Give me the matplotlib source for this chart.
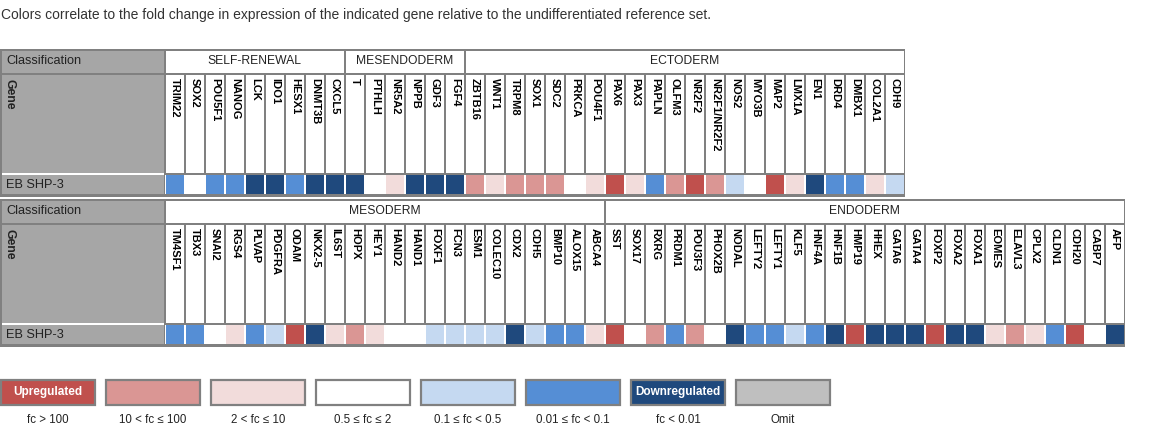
import matplotlib
matplotlib.use('Agg')
import matplotlib.pyplot as plt
from matplotlib.patches import Rectangle

plt.rcParams['font.family'] = ['Liberation Sans', 'DejaVu Sans']

title = ("Colors correlate to the fold change in expression of the indicated gene "
         "relative to the undifferentiated reference set.")
sample = 'EB SHP-3'

# level index: 0 = fc > 100 ... 6 = fc < 0.01, 7 = omit
top_groups = ['SELF-RENEWAL', 'MESENDODERM', 'ECTODERM']
top_group_sizes = [9, 6, 22]
top_genes = ['TRIM22', 'SOX2', 'POU5F1', 'NANOG', 'LCK', 'IDO1', 'HESX1', 'DNMT3B', 'CXCL5',
             'T', 'PTHLH', 'NR5A2', 'NPPB', 'GDF3', 'FGF4',
             'ZBTB16', 'WNT1', 'TRPM8', 'SOX1', 'SDC2', 'PRKCA', 'POU4F1', 'PAX6', 'PAX3',
             'PAPLN', 'OLFM3', 'NR2F2', 'NR2F1/NR2F2', 'NOS2', 'MYO3B', 'MAP2', 'LMX1A',
             'EN1', 'DRD4', 'DMBX1', 'COL2A1', 'CDH9']
top_levels = [5, 3, 5, 5, 6, 6, 5, 6, 6,
              6, 3, 2, 6, 6, 6,
              1, 2, 1, 1, 1, 3, 2, 0, 2,
              5, 1, 0, 1, 4, 3, 0, 2,
              6, 5, 5, 2, 4]

bottom_groups = ['MESODERM', 'ENDODERM']
bottom_group_sizes = [22, 26]
bottom_genes = ['TM4SF1', 'TBX3', 'SNAI2', 'RGS4', 'PLVAP', 'PDGFRA', 'ODAM', 'NKX2-5', 'IL6ST',
                'HOPX', 'HEY1', 'HAND2', 'HAND1', 'FOXF1', 'FCN3', 'ESM1', 'COLEC10', 'CDX2',
                'CDH5', 'BMP10', 'ALOX15', 'ABCA4',
                'SST', 'SOX17', 'RXRG', 'PRDM1', 'POU3F3', 'PHOX2B', 'NODAL', 'LEFTY2', 'LEFTY1',
                'KLF5', 'HNF4A', 'HNF1B', 'HMP19', 'HHEX', 'GATA6', 'GATA4', 'FOXP2', 'FOXA2',
                'FOXA1', 'EOMES', 'ELAVL3', 'CPLX2', 'CLDN1', 'CDH20', 'CABP7', 'AFP']
bottom_levels = [5, 5, 3, 2, 5, 4, 0, 6, 2,
                 1, 2, 3, 3, 4, 4, 4, 4, 6,
                 4, 5, 5, 2,
                 0, 3, 1, 5, 1, 3, 6, 5, 5,
                 4, 5, 6, 0, 6, 6, 6, 0, 6,
                 6, 2, 1, 2, 5, 0, 3, 6]

level_colors = ['#c0504d', '#da9694', '#f2dcdb', '#ffffff', '#c5d9f1', '#558ed5', '#1f497d', '#bfbfbf']
legend_names = ['Upregulated', '', '', '', '', '', 'Downregulated', '']
legend_labels = ['fc > 100', '10 < fc ≤ 100', '2 < fc ≤ 10', '0.5 ≤ fc ≤ 2',
                 '0.1 ≤ fc < 0.5', '0.01 ≤ fc < 0.1', 'fc < 0.01', 'Omit']

BORDER = '#808080'
LABEL_BG = '#a6a6a6'
X0 = 165   # first gene column
CW = 20    # column width

fig = plt.figure(figsize=(11.5, 4.3), dpi=100)
ax = fig.add_axes([0, 0, 1, 1])
ax.set_xlim(0, 1150)
ax.set_ylim(430, 0)
ax.axis('off')

ax.text(1, 15, title, fontsize=10, color='#333333', va='center', ha='left')


def box(x, y, w, h, color):
    ax.add_patch(Rectangle((x, y), w, h, facecolor=color, edgecolor='none', linewidth=0))


def draw_table(top, groups, sizes, genes, levels):
    right = X0 + CW * len(genes)
    box(0, top, right, 148, BORDER)
    # label column
    box(1.5, top + 2, 162, 21.5, LABEL_BG)
    box(1.5, top + 25.5, 162, 98.5, LABEL_BG)
    box(1.5, top + 124, 162, 2.3, 'white')
    box(1.5, top + 126.3, 162, 18.7, LABEL_BG)
    ax.text(6, top + 12.5, 'Classification', fontsize=9.2, color='#222222', va='center')
    ax.text(9, top + 30, 'Gene', fontsize=8.7, fontweight='bold', color='#222222',
            rotation=-90, ha='center', va='top')
    ax.text(6, top + 136, sample, fontsize=9.2, color='#222222', va='center')
    # classification headers
    start = 0
    for name, k in zip(groups, sizes):
        x = X0 + 0.5 + CW * start
        w = CW * k - 2
        box(x, top + 2, w, 21.5, 'white')
        ax.text(x + w / 2, top + 12.5, name, fontsize=8.7, color='#222222',
                ha='center', va='center')
        start += k
    # gene names + sample row
    box(X0, top + 126.3, right - X0 - 1.5, 18.7, 'white')
    for i, (g, lv) in enumerate(zip(genes, levels)):
        x = X0 + 0.5 + CW * i
        box(x, top + 25.5, 18, 98.5, 'white')
        ax.text(x + 9.5, top + 29.5, g, fontsize=8, fontweight='bold', color='black',
                rotation=-90, ha='center', va='top')
        box(x, top + 126.3, 18, 18.7, level_colors[lv])


draw_table(49, top_groups, top_group_sizes, top_genes, top_levels)
draw_table(199, bottom_groups, bottom_group_sizes, bottom_genes, bottom_levels)

# legend
for i, (c, name, lab) in enumerate(zip(level_colors, legend_names, legend_labels)):
    x = 105 * i
    ax.add_patch(Rectangle((x + 1, 380), 94, 25, facecolor=c, edgecolor=BORDER, linewidth=1.6))
    if name:
        ax.text(x + 48, 392.5, name, fontsize=8.5, fontweight='bold', color='white',
                ha='center', va='center')
    ax.text(x + 48, 420, lab, fontsize=8.3, color='#222222', ha='center', va='center')

fig.savefig('out.png', dpi=100)
